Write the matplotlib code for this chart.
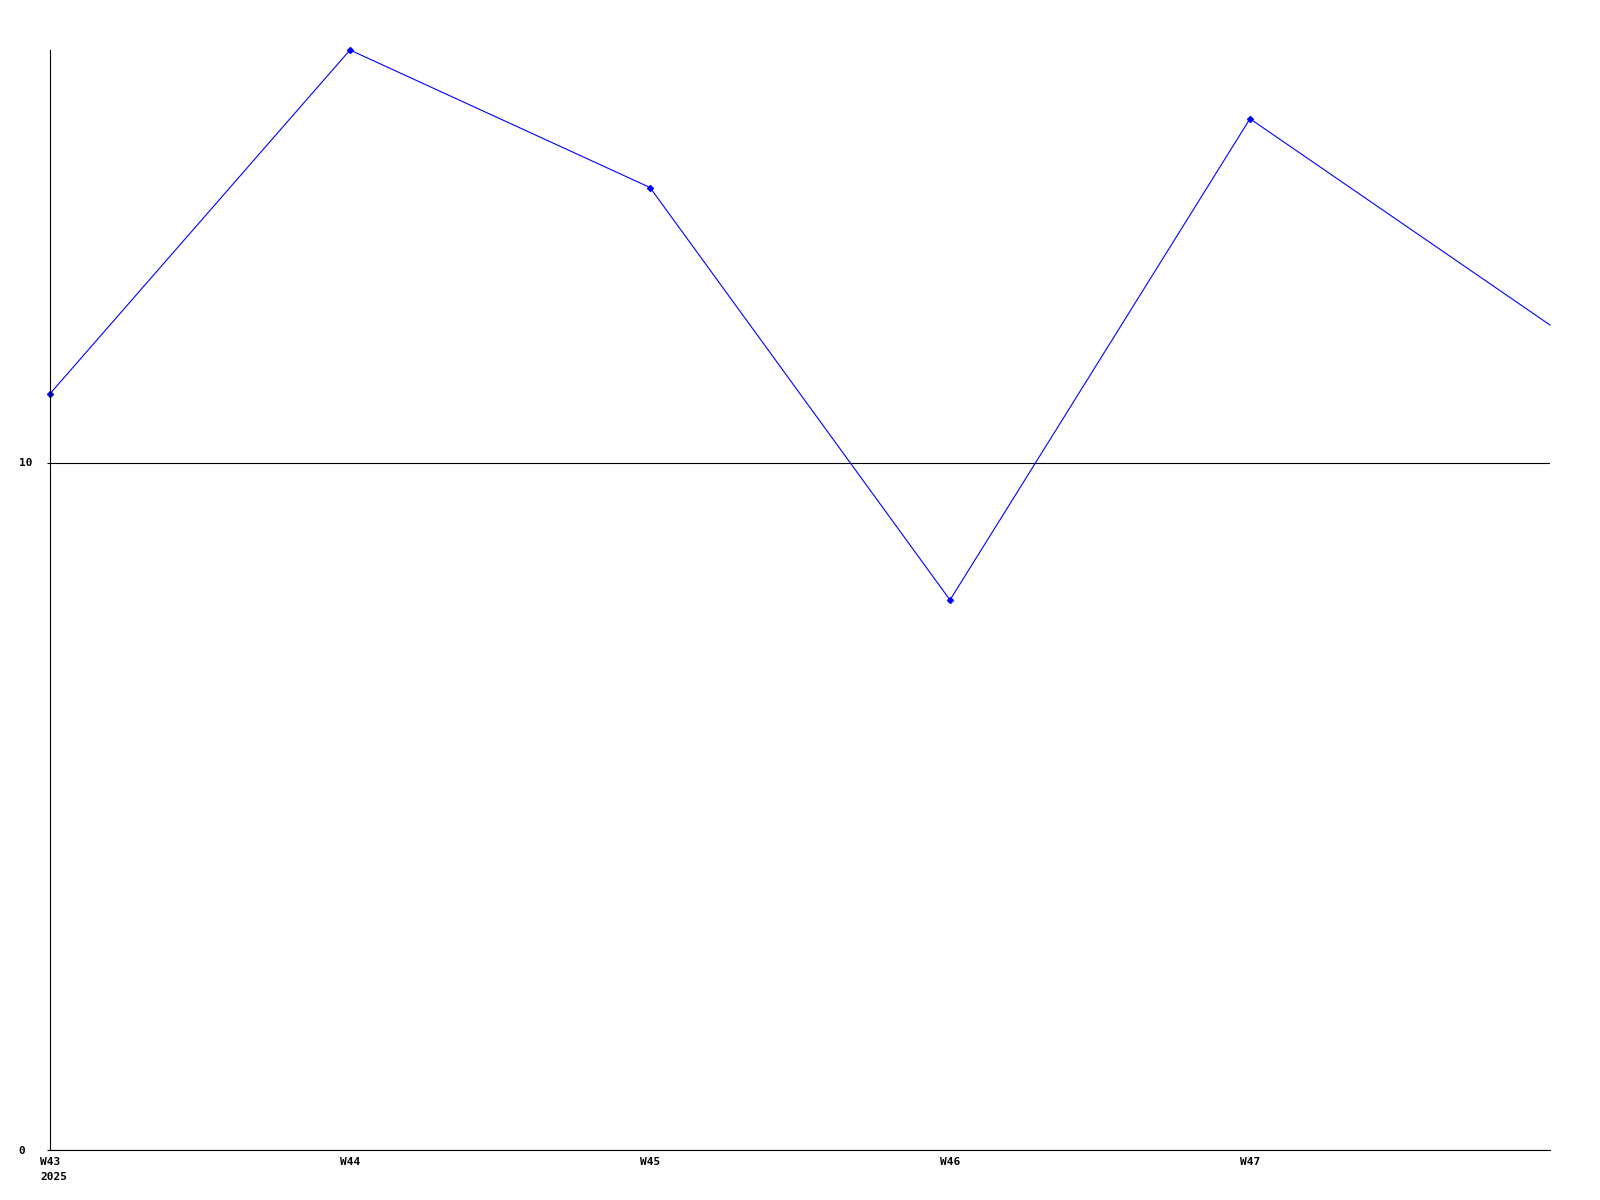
import matplotlib
matplotlib.use("Agg")
import matplotlib.pyplot as plt
import matplotlib.transforms as mtransforms

weeks = ["W43", "W44", "W45", "W46", "W47", "W48"]
values = [11, 16, 14, 8, 15, 12]
tick_labels = ["W43\n2025", "W44", "W45", "W46", "W47"]
y_ticks = [0, 10]

plt.rcParams["font.family"] = ["DejaVu Sans Mono"]
plt.rcParams["font.weight"] = "bold"
plt.rcParams["font.size"] = 8

fig = plt.figure(figsize=(16, 12), dpi=100)
ax = fig.add_axes([50 / 1600, 50 / 1200, 1500 / 1600, 1100 / 1200])

x = list(range(len(weeks)))
ax.plot(x, values, color="#0000ff", lw=0.8, marker="D", ms=3,
        markevery=list(range(len(weeks) - 1)), clip_on=False)

ax.set_xlim(0, len(weeks) - 1)
ax.set_ylim(0, 16)
ax.set_xticks(x[:-1])
ax.set_xticklabels(tick_labels)
ax.set_yticks(y_ticks)
ax.set_yticklabels([str(v) for v in y_ticks])
ax.tick_params(axis="x", length=0, pad=5)
ax.tick_params(axis="y", length=2, width=0.8, pad=20.5)
for t in ax.get_yticklabels():
    t.set_horizontalalignment("left")

# first label is left-aligned so the year sits under it
lab = ax.get_xticklabels()[0]
lab.set_horizontalalignment("left")
lab.set_multialignment("left")
lab.set_linespacing(1.6)
lab.set_transform(lab.get_transform() + mtransforms.ScaledTranslation(-10 / 100, 0, fig.dpi_scale_trans))

ax.grid(axis="y", color="black", lw=0.8)
ax.set_axisbelow(True)
for s in ["top", "right"]:
    ax.spines[s].set_visible(False)
for s in ["left", "bottom"]:
    ax.spines[s].set_linewidth(0.8)

fig.savefig("out.png", dpi=100)
